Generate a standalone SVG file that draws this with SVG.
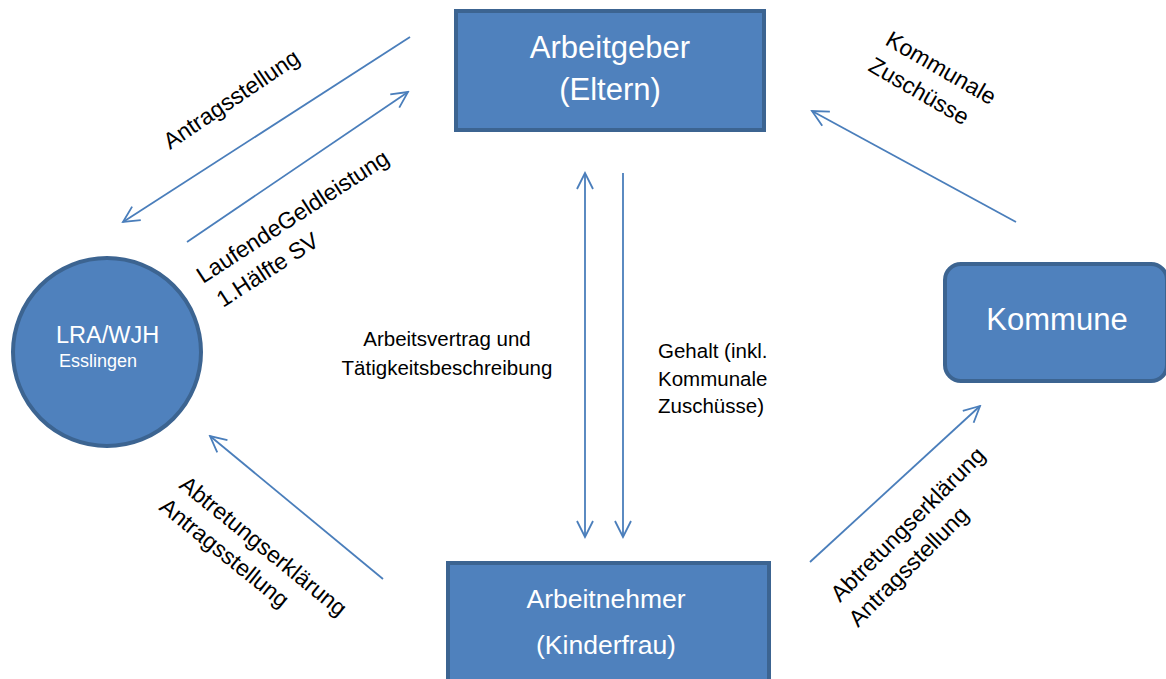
<svg xmlns="http://www.w3.org/2000/svg" width="1166" height="679" viewBox="0 0 1166 679">
<style>
.node{fill:#4F81BD;stroke:#3C6491;stroke-width:4}
.nt{fill:#ffffff;font-family:"Liberation Sans",Arial,sans-serif}
.lbl{fill:#000000;font-family:"Liberation Sans",Arial,sans-serif;font-size:23px}
.clbl{fill:#000000;font-family:"Liberation Sans",Arial,sans-serif;font-size:20.5px}
.conn{stroke:#4A7EBB;stroke-width:1.8;fill:none}
</style>
<defs>
<marker id="ah" viewBox="0 0 20 20" refX="18" refY="10" markerWidth="20" markerHeight="20" markerUnits="userSpaceOnUse" orient="auto-start-reverse">
<path d="M2,2 L18,10 L2,18" fill="none" stroke="#4A7EBB" stroke-width="1.8"/>
</marker>
</defs>
<rect width="1166" height="679" fill="#ffffff"/>
<g id="connectors">
<line class="conn" x1="410" y1="37" x2="123" y2="222" marker-end="url(#ah)"/>
<line class="conn" x1="187" y1="242" x2="408" y2="92" marker-end="url(#ah)"/>
<line class="conn" x1="585" y1="173" x2="585" y2="537" marker-start="url(#ah)" marker-end="url(#ah)"/>
<line class="conn" x1="623" y1="173" x2="623" y2="537" marker-end="url(#ah)"/>
<line class="conn" x1="1016" y1="222" x2="812" y2="111" marker-end="url(#ah)"/>
<line class="conn" x1="383" y1="579" x2="210" y2="436" marker-end="url(#ah)"/>
<line class="conn" x1="810" y1="562" x2="980" y2="406" marker-end="url(#ah)"/>
</g>
<g id="labels">
<text class="lbl" transform="translate(170,150) rotate(-34)">Antragsstellung</text>
<text class="lbl" transform="translate(203,284) rotate(-33)">LaufendeGeldleistung</text>
<text class="lbl" transform="translate(223,308) rotate(-33)">1.Hälfte SV</text>
<text class="lbl" transform="translate(884,44) rotate(30)">Kommunale</text>
<text class="lbl" transform="translate(867,70) rotate(30)">Zuschüsse</text>
<text class="lbl" transform="translate(178,487) rotate(39)">Abtretungserklärung</text>
<text class="lbl" transform="translate(158,509) rotate(39)">Antragsstellung</text>
<text class="lbl" transform="translate(840,603) rotate(-45)">Abtretungserklärung</text>
<text class="lbl" transform="translate(858,628) rotate(-45)">Antragsstellung</text>
<text class="clbl" x="447" y="346" text-anchor="middle">Arbeitsvertrag und</text>
<text class="clbl" x="447" y="375" text-anchor="middle">Tätigkeitsbeschreibung</text>
<text class="clbl" x="658" y="358">Gehalt (inkl.</text>
<text class="clbl" x="658" y="386">Kommunale</text>
<text class="clbl" x="658" y="413">Zuschüsse)</text>
</g>
<g id="arbeitgeber">
<rect class="node" x="456" y="11" width="308" height="119"/>
<text class="nt" x="610" y="58" font-size="31" text-anchor="middle">Arbeitgeber</text>
<text class="nt" x="610" y="100" font-size="31" text-anchor="middle">(Eltern)</text>
</g>
<g id="lra">
<circle class="node" cx="107" cy="352" r="94"/>
<text class="nt" x="56" y="343" font-size="23.5">LRA/WJH</text>
<text class="nt" x="59" y="367" font-size="18">Esslingen</text>
</g>
<g id="kommune">
<rect class="node" x="945" y="264" width="222" height="117" rx="16"/>
<text class="nt" x="1057" y="330" font-size="31" text-anchor="middle">Kommune</text>
</g>
<g id="arbeitnehmer">
<rect class="node" x="448" y="563" width="321" height="130"/>
<text class="nt" x="606" y="608" font-size="26.5" text-anchor="middle">Arbeitnehmer</text>
<text class="nt" x="606" y="654" font-size="26.5" text-anchor="middle">(Kinderfrau)</text>
</g>
</svg>
